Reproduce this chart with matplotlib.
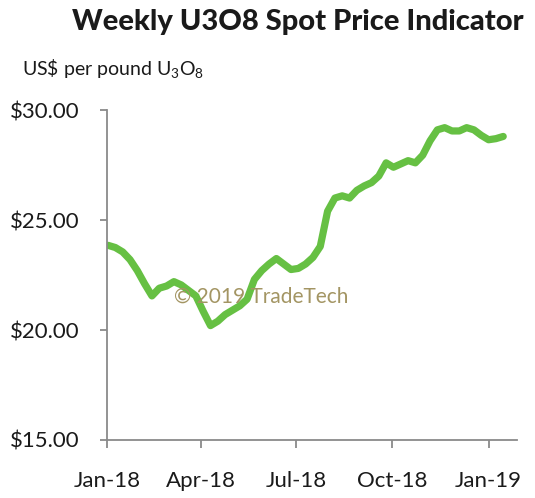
import numpy as np
import pandas as pd
import matplotlib
matplotlib.use("Agg")
import matplotlib.pyplot as plt

plt.rcParams['font.family'] = ['Lato', 'DejaVu Sans']
plt.rcParams['mathtext.default'] = 'regular'

# Weekly U3O8 spot price (US$/lb)
start_date = "2018-01-02"
prices = [23.85, 23.75, 23.55, 23.2, 22.7, 22.1, 21.55, 21.9, 22.0, 22.2,
          22.05, 21.8, 21.55, 20.85, 20.2, 20.4, 20.7, 20.9, 21.1, 21.4,
          22.3, 22.7, 23.0, 23.25, 23.0, 22.75, 22.8, 23.0, 23.3, 23.8,
          25.4, 26.0, 26.1, 26.0, 26.35, 26.55, 26.7, 27.0, 27.6, 27.4,
          27.55, 27.7, 27.6, 27.95, 28.6, 29.1, 29.2, 29.05, 29.05, 29.2,
          29.1, 28.85, 28.65, 28.7, 28.8]
dates = pd.date_range(start_date, periods=len(prices), freq="7D")

tick_dates = ["2018-01-01", "2018-04-01", "2018-07-01", "2018-10-01", "2019-01-01"]
tick_labels = ["Jan-18", "Apr-18", "Jul-18", "Oct-18", "Jan-19"]
y_ticks = [15, 20, 25, 30]

GREEN = "#66c043"
GREY = "#8a8a8a"

fig = plt.figure(figsize=(5.35, 4.98), dpi=100)
ax = fig.add_axes([0.2, 0.1165, 0.766, 0.6625])

ax.plot(dates, prices, color=GREEN, lw=5.2, solid_capstyle="round",
        solid_joinstyle="round", zorder=2)

ax.set_ylim(15, 30)
ax.set_xlim(pd.Timestamp("2018-01-01"), pd.Timestamp("2019-01-28"))
ax.set_yticks(y_ticks)
ax.set_yticklabels([f"\\${v:.2f}" for v in y_ticks])
ax.set_xticks(pd.to_datetime(tick_dates))
ax.set_xticklabels(tick_labels)

for s in ["top", "right"]:
    ax.spines[s].set_visible(False)
for s in ["left", "bottom"]:
    ax.spines[s].set_color(GREY)
    ax.spines[s].set_linewidth(1.3)
ax.tick_params(axis="y", length=5, width=1.3, color=GREY, pad=15,
               labelsize=16, labelcolor="#1a1a1a")
ax.tick_params(axis="x", length=6, width=1.3, color=GREY, pad=16,
               labelsize=16, labelcolor="#1a1a1a")

# watermark
ax.text(0.163, 0.433, "\u00a9 2019 TradeTech", transform=ax.transAxes,
        fontsize=15, color="#a39563", ha="left", va="center", zorder=3)

fig.text(0.557, 0.955, "Weekly U3O8 Spot Price Indicator", fontsize=21,
         fontweight="black", ha="center", va="center", color="#1a1a1a")
fig.text(0.041, 0.862, "US\\$ per pound U$_3$O$_8$", fontsize=14,
         ha="left", va="center", color="#1a1a1a")

fig.savefig("out.png", dpi=100)
